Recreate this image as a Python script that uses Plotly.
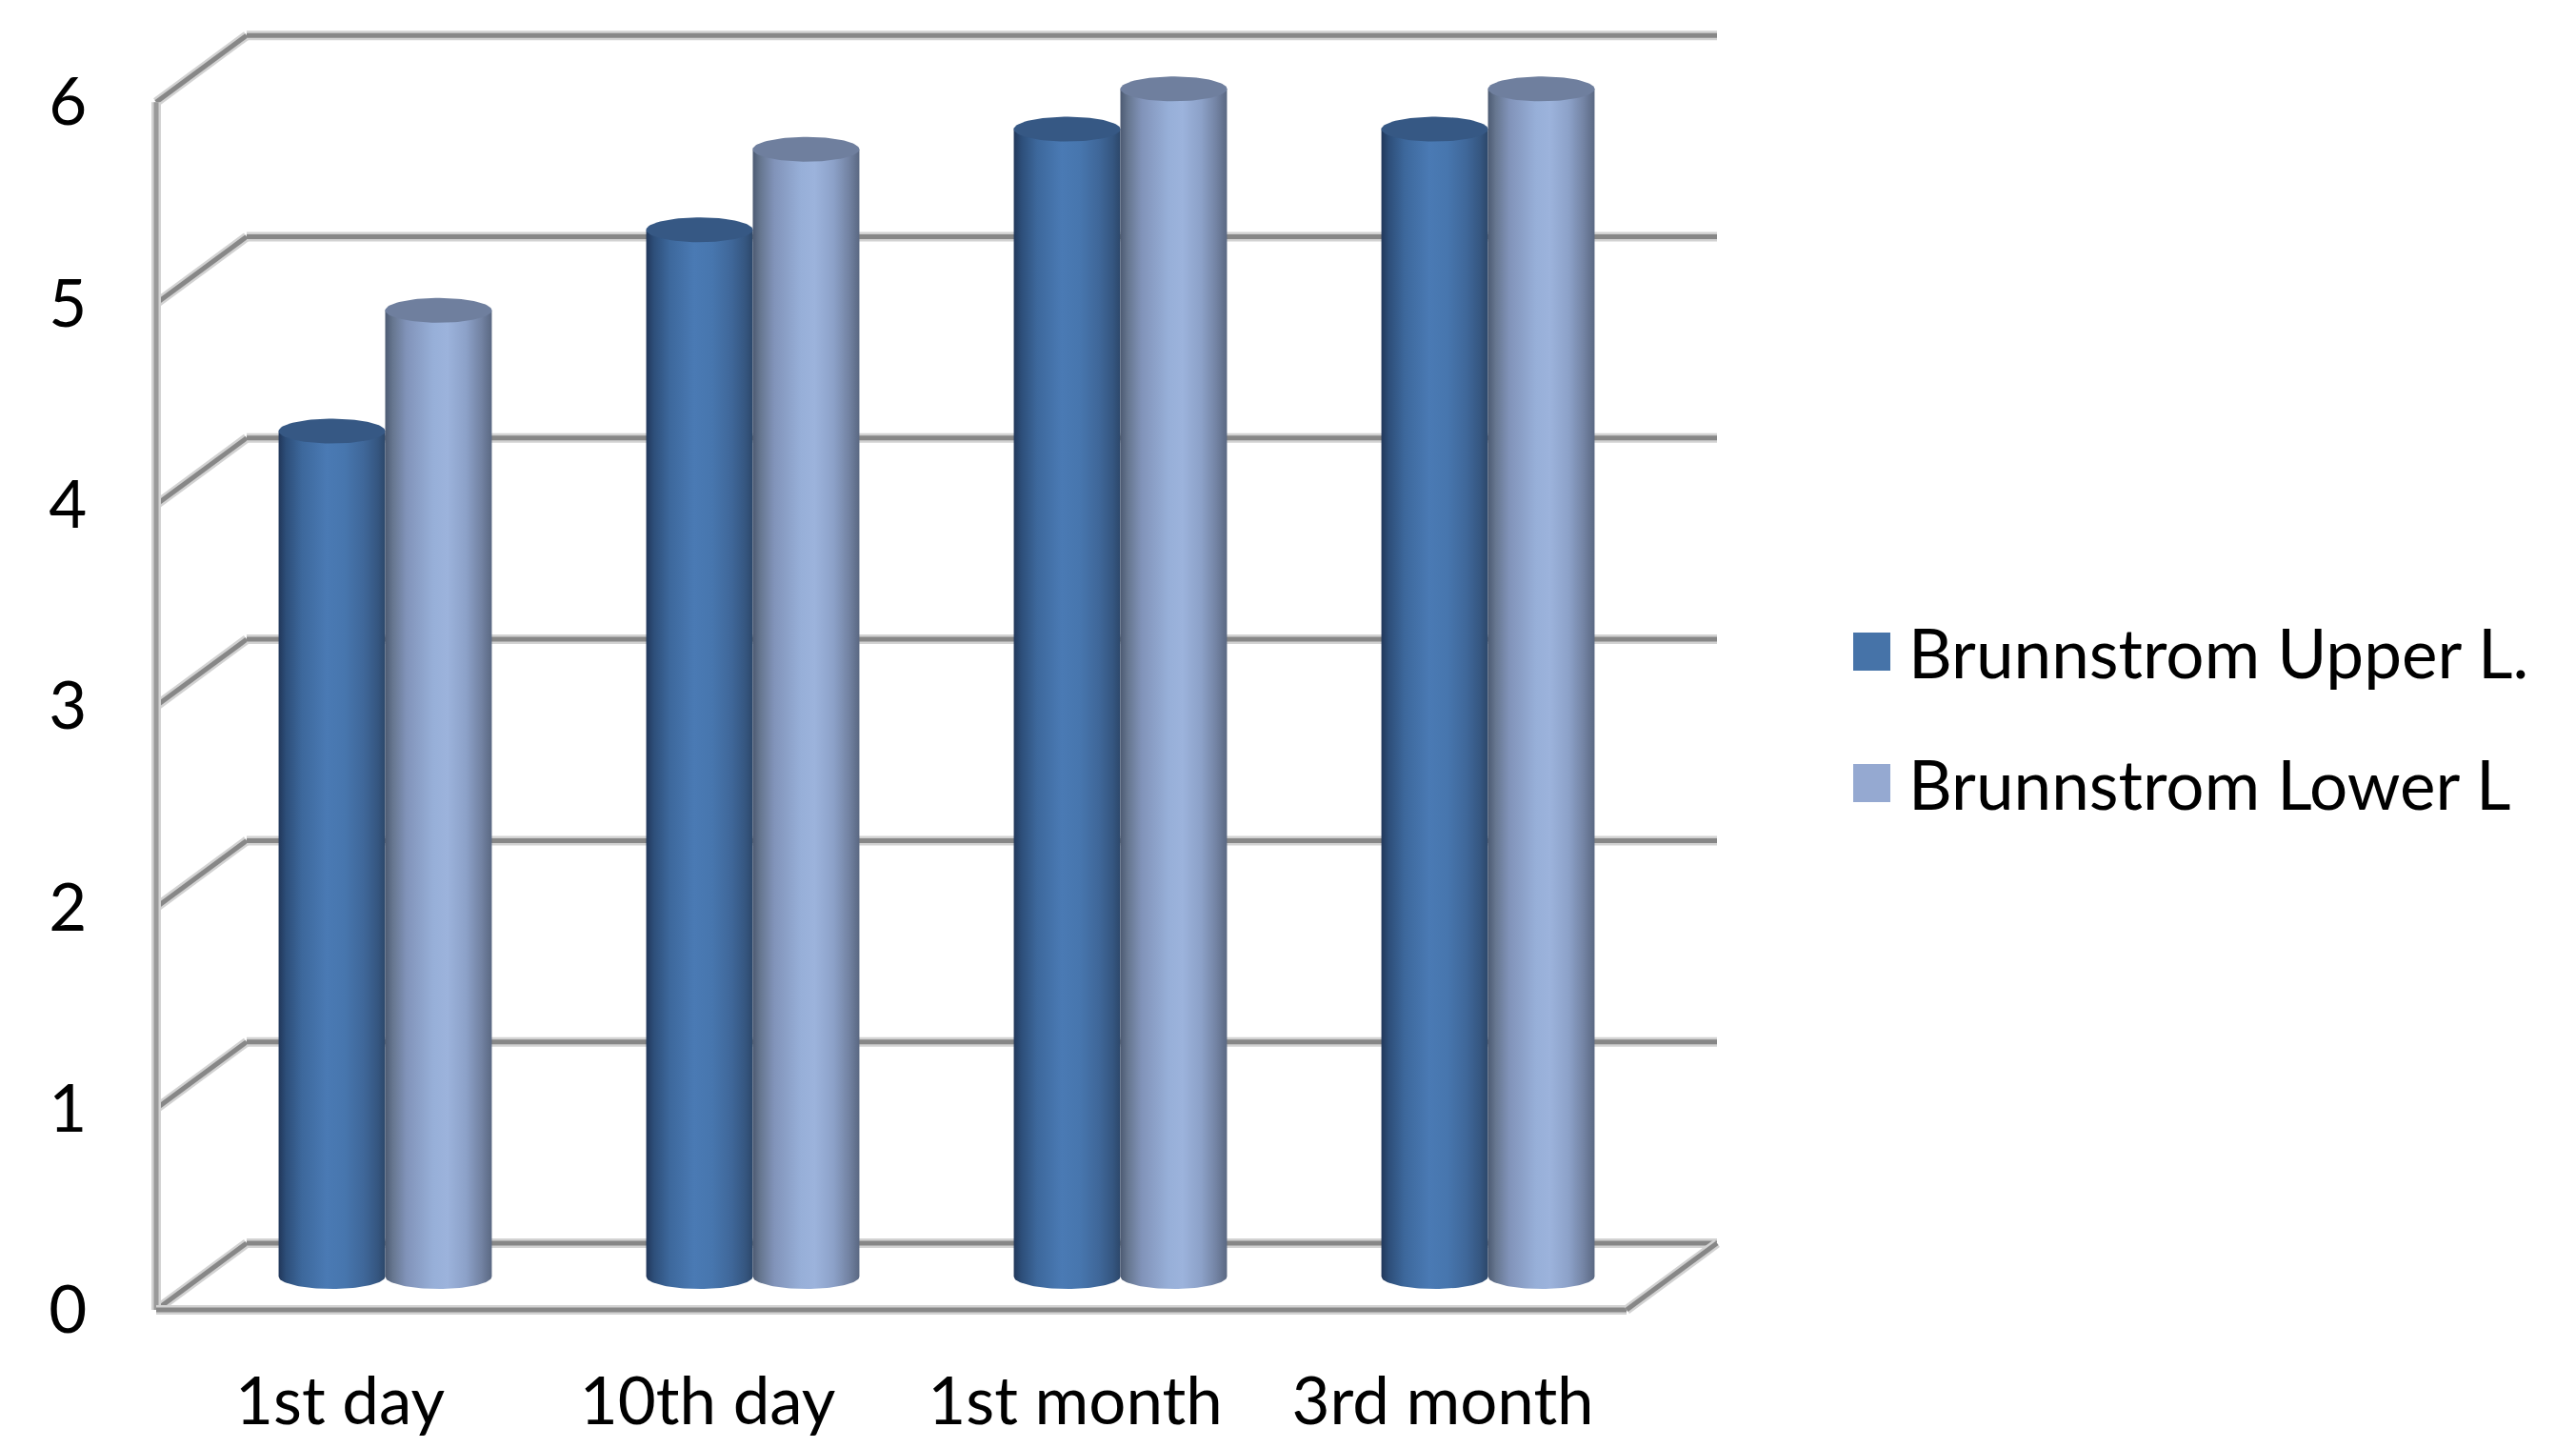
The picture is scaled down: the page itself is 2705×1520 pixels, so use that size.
import numpy as np
import plotly.graph_objects as go

# ---- data -------------------------------------------------------------
categories = ["1st day", "10th day", "1st month", "3rd month"]
upper_limb = [4.2, 5.2, 5.7, 5.7]
lower_limb = [4.8, 5.6, 5.9, 5.9]
series_names = ["Brunnstrom Upper L.", "Brunnstrom Lower L"]
y_ticks = [0, 1, 2, 3, 4, 5, 6]

# ---- canvas / axis geometry ------------------------------------------
W, H = 2705, 1520
ML, MR, MT, MB = 120, 805, 0, 110
PW, PH = W - ML - MR, H - MT - MB

# front-plane scale: category -0.5 sits at 164 px, one category = 386 px;
# value 0 sits at 1375 px, one unit = 211.3 px
X0_PX, CAT_PX = 164.0, 386.0
Y0_PX, UNIT_PX = 1375.0, 211.3
x_range = [(ML - X0_PX) / CAT_PX - 0.5, (ML + PW - X0_PX) / CAT_PX - 0.5]
y_range = [(Y0_PX - (MT + PH)) / UNIT_PX, (Y0_PX - MT) / UNIT_PX]

# oblique depth of the 3-D box (front -> back wall)
DX = 95.0 / CAT_PX
DY = 70.0 / UNIT_PX
BAR_DEPTH = 0.5          # bars stand half-way into the box
RX = 0.145               # cylinder radius (category units)
RY = 13.0 / UNIT_PX      # half height of the cap ellipse (value units)

FONT = "Lato"
FS = 69

dark_scale = [[0.0, "#21375a"], [0.07, "#2d4e79"], [0.22, "#3d689c"],
              [0.45, "#4a7ab4"], [0.62, "#4776ae"], [0.8, "#3f6799"],
              [0.93, "#355680"], [1.0, "#2c476a"]]
light_scale = [[0.0, "#4c5a72"], [0.07, "#66768f"], [0.2, "#8193b9"],
               [0.45, "#97afd8"], [0.58, "#9cb3dc"], [0.76, "#8ca1c8"],
               [0.9, "#7383a3"], [1.0, "#5a6882"]]
cap_colors = ["#365884", "#6f7f9e"]
legend_colors = ["#4673a8", "#95a9d1"]

fig = go.Figure()

# ---- walls, floor and gridlines ---------------------------------------
GRID_DARK, GRID_LIGHT = "#878787", "#d2d2d2"


def wall_line(x0, y0, x1, y1, width=5, color=GRID_DARK, halo=True):
    if halo:
        fig.add_shape(type="line", x0=x0, y0=y0, x1=x1, y1=y1, xref="x", yref="y",
                      line=dict(color=GRID_LIGHT, width=width + 5), layer="below")
    fig.add_shape(type="line", x0=x0, y0=y0, x1=x1, y1=y1, xref="x", yref="y",
                  line=dict(color=color, width=width), layer="below")


left, right = -0.5, len(categories) - 0.5
for v in y_ticks:
    wall_line(left, v, left + DX, v + DY)
    wall_line(left + DX, v + DY, right + DX, v + DY)
wall_line(left, 0, left, y_ticks[-1], width=5, color="#9a9a9a")
wall_line(left, 0, right, 0)
wall_line(right, 0, right + DX, DY)

# ---- cylinders --------------------------------------------------------
theta = np.linspace(0, np.pi, 60)


def cylinder(xc, value, scale, cap_color):
    yb = BAR_DEPTH * DY
    yt = value + BAR_DEPTH * DY
    bx = [xc - RX, xc + RX, xc + RX] + list(xc + RX * np.cos(theta)) + [xc - RX]
    by = [yt, yt, yb] + list(yb - RY * np.sin(theta)) + [yt]
    fig.add_trace(go.Scatter(
        x=bx, y=by, mode="lines", fill="toself", line=dict(width=0),
        fillgradient=dict(type="horizontal", colorscale=scale),
        showlegend=False, hoverinfo="skip"))
    t2 = np.linspace(0, 2 * np.pi, 90)
    fig.add_trace(go.Scatter(
        x=xc + RX * np.cos(t2), y=yt + RY * np.sin(t2), mode="lines",
        fill="toself", fillcolor=cap_color, line=dict(width=0),
        showlegend=False, hoverinfo="skip"))


for i, cat in enumerate(categories):
    centre = i + BAR_DEPTH * DX
    cylinder(centre - RX, upper_limb[i], dark_scale, cap_colors[0])
    cylinder(centre + RX, lower_limb[i], light_scale, cap_colors[1])

# ---- legend (drawn by hand so the swatches match the text size) ------
def paper_x(px):
    return (px - ML) / PW


def paper_y(py):
    return (H - MB - py) / PH


legend_rows = [684, 822]
for name, col, yc in zip(series_names, legend_colors, legend_rows):
    fig.add_shape(type="rect", xref="paper", yref="paper",
                  x0=paper_x(1946), x1=paper_x(1985),
                  y0=paper_y(yc - 20), y1=paper_y(yc + 20),
                  fillcolor=col, line=dict(width=0))
    fig.add_annotation(text=name, xref="paper", yref="paper",
                       x=paper_x(2002), y=paper_y(yc), xanchor="left",
                       yanchor="middle", showarrow=False,
                       font=dict(family=FONT, size=FS + 2, color="#000000"))

fig.update_layout(
    width=W, height=H,
    margin=dict(l=ML, r=MR, t=MT, b=MB, autoexpand=False),
    paper_bgcolor="white", plot_bgcolor="white",
    showlegend=False,
    font=dict(family=FONT, size=FS, color="#000000"),
    xaxis=dict(range=x_range, tickmode="array", tickvals=list(range(len(categories))),
               ticktext=categories, showgrid=False, zeroline=False, showline=False,
               ticks="outside", ticklen=1, tickcolor="rgba(0,0,0,0)",
               fixedrange=True),
    yaxis=dict(range=y_range, tickmode="array", tickvals=y_ticks,
               ticktext=[str(v) for v in y_ticks], showgrid=False, zeroline=False,
               showline=False, ticks="outside", ticklen=14,
               tickcolor="rgba(0,0,0,0)", fixedrange=True),
)

fig.write_html("out.html")
